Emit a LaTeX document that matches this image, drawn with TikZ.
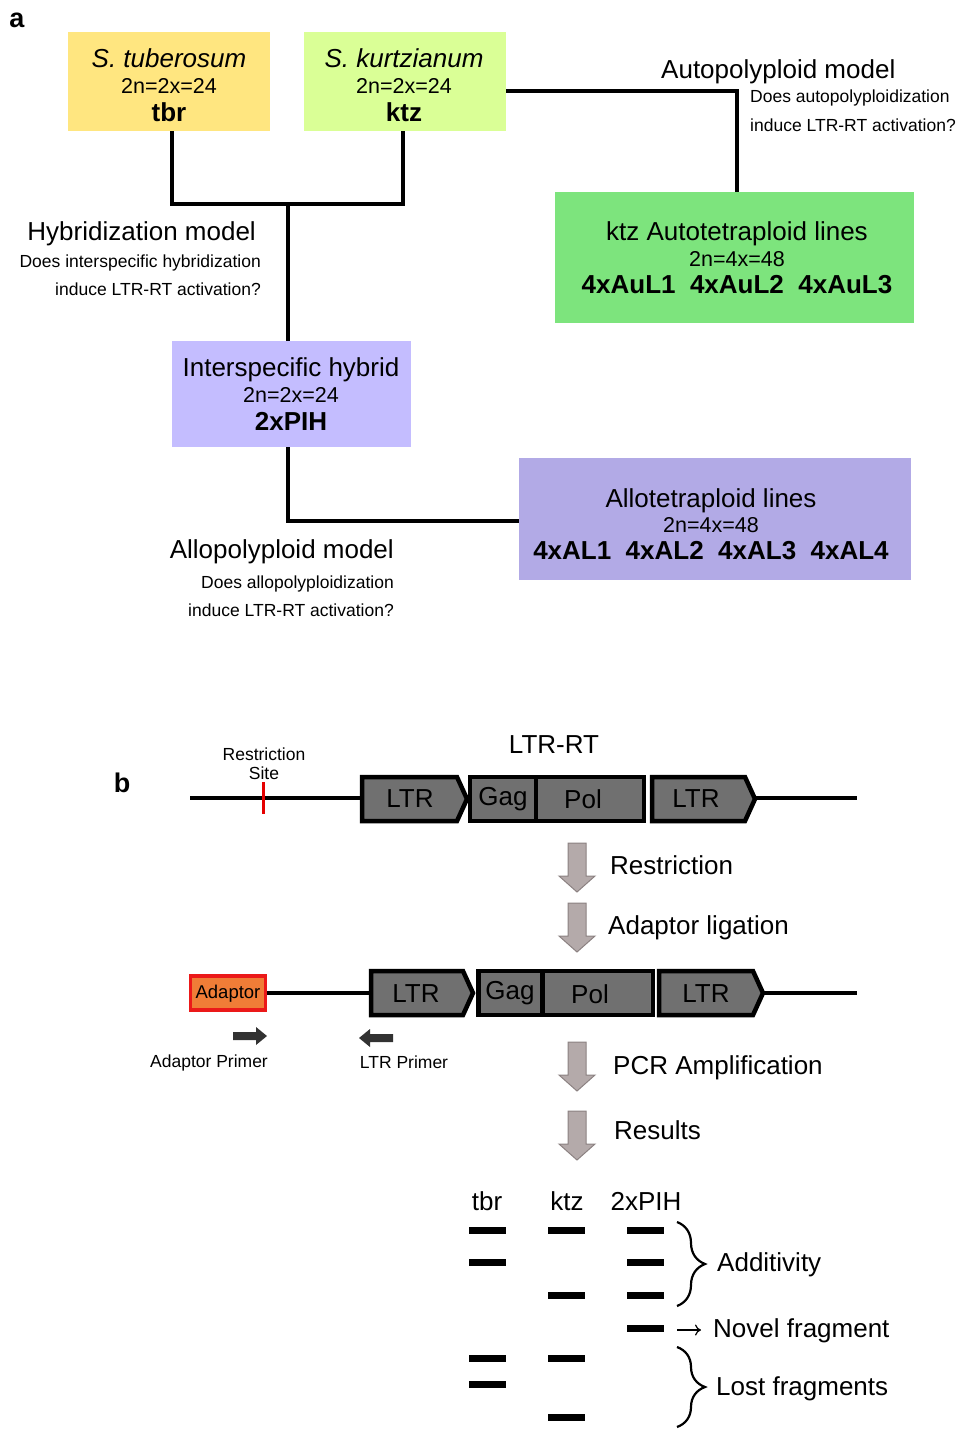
\documentclass[tikz,border=0pt]{standalone}
\usepackage{fontspec}
\setmainfont{Liberation Sans}
\usetikzlibrary{decorations.pathreplacing,arrows.meta}
\definecolor{tbrcol}{RGB}{255,230,128}
\definecolor{ktzcol}{RGB}{218,255,150}
\definecolor{autocol}{RGB}{125,228,125}
\definecolor{hybcol}{RGB}{196,189,255}
\definecolor{allocol}{RGB}{178,170,230}
\definecolor{genegray}{RGB}{112,112,112}
\definecolor{arrowfill}{RGB}{180,170,170}
\definecolor{arrowdraw}{RGB}{140,130,130}
\definecolor{adaptfill}{RGB}{240,125,55}
\definecolor{adaptdraw}{RGB}{235,25,25}
\definecolor{primercol}{RGB}{50,50,50}
\begin{document}
\begin{tikzpicture}[x=1pt,y=-1pt,
  big/.style={font=\fontsize{26}{30}\selectfont, inner sep=0pt},
  bigb/.style={font=\fontsize{26}{30}\selectfont\bfseries, inner sep=0pt},
  bigi/.style={font=\fontsize{26}{30}\selectfont\itshape, inner sep=0pt},
  mid/.style={font=\fontsize{21.5}{25}\selectfont, inner sep=0pt},
  small/.style={font=\fontsize{17.5}{21}\selectfont, inner sep=0pt},
  panel/.style={font=\fontsize{27}{30}\selectfont\bfseries, inner sep=0pt},
  box/.style={rectangle, inner sep=0pt, draw=none},
  conn/.style={line width=4.5pt, line join=miter},
  dna/.style={line width=4pt},
  genebox/.style={rectangle, draw=black, fill=genegray, line width=4.5pt, inner sep=0pt, line join=miter},
  ltrbox/.style={draw=black, fill=genegray, line width=4.5pt, line join=miter},
  band/.style={rectangle, fill=black, minimum width=37pt, minimum height=7pt, inner sep=0pt},
  bracestyle/.style={decorate, decoration={brace, amplitude=28pt, aspect=0.5}, line width=2.2pt},
  pics/grayarrow/.style={code={
    \draw[fill=arrowfill, draw=arrowdraw, line width=1pt]
      (-9,0) -- (9,0) -- (9,33) -- (18,33) -- (0,49) -- (-18,33) -- (-9,33) -- cycle;}}
]
\useasboundingbox (0,0) rectangle (957,1429);

% ---------- panel a ----------
\node[panel] (pa) at (17,20) {a};

\node[box, fill=tbrcol, minimum width=202pt, minimum height=99pt] (tbr) at (169,81.5) {};
\node[bigi] (tbr1) at (169,58) {S. tuberosum};
\node[mid]  (tbr2) at (169,86) {2n=2x=24};
\node[bigb] (tbr3) at (169,112) {tbr};

\node[box, fill=ktzcol, minimum width=202pt, minimum height=99pt] (ktz) at (405,81.5) {};
\node[bigi] (ktz1) at (404,58) {S. kurtzianum};
\node[mid]  (ktz2) at (404,86) {2n=2x=24};
\node[bigb] (ktz3) at (404,112) {ktz};

\node[box, fill=autocol, minimum width=359pt, minimum height=131pt] (auto) at (734.5,257.5) {};
\node[big]  (auto1) at (737,234) {ktz Autotetraploid lines};
\node[mid]  (auto2) at (737,259) {2n=4x=48};
\node[bigb] (auto3) at (737,285) {4xAuL1\ \ 4xAuL2\ \ 4xAuL3};

\node[box, fill=hybcol, minimum width=239pt, minimum height=106pt] (hyb) at (291.5,394) {};
\node[big]  (hyb1) at (291,370) {Interspecific hybrid};
\node[mid]  (hyb2) at (291,395) {2n=2x=24};
\node[bigb] (hyb3) at (291,421) {2xPIH};

\node[box, fill=allocol, minimum width=392pt, minimum height=122pt] (allo) at (715,519) {};
\node[big]  (allo1) at (711,501) {Allotetraploid lines};
\node[mid]  (allo2) at (711,525) {2n=4x=48};
\node[bigb] (allo3) at (711,551) {4xAL1\ \ 4xAL2\ \ 4xAL3\ \ 4xAL4};

% connectors
\coordinate (j) at (288,204);
\draw[conn] ([xshift=3pt]tbr.south) |- (j) -| ([xshift=-2pt]ktz.south);
\draw[conn] (j) -- (j |- hyb.north);
\draw[conn] ([yshift=-9.5pt]ktz.east) -| ([xshift=2.5pt]auto.north);
\draw[conn] ([xshift=-3.5pt]hyb.south) |- ([yshift=-2pt]allo.west);

% model texts
\node[big, anchor=west] (automodel) at (661,72) {Autopolyploid model};
\node[small, anchor=west] (autoq1) at (750,98) {Does autopolyploidization};
\node[small, anchor=west] (autoq2) at (750,125) {induce LTR-RT activation?};

\node[big, anchor=east] (hybmodel) at (256,234) {Hybridization model};
\node[small, anchor=east] (hybq1) at (261,263) {Does interspecific hybridization};
\node[small, anchor=east] (hybq2) at (261,289) {induce LTR-RT activation?};

\node[big, anchor=east] (allomodel) at (394,552) {Allopolyploid model};
\node[small, anchor=east] (alloq1) at (394,584) {Does allopolyploidization};
\node[small, anchor=east] (alloq2) at (394,610) {induce LTR-RT activation?};

% ---------- panel b ----------
\node[panel] (pb) at (122,783) {b};
\node[small] (rs1) at (264,754) {Restriction};
\node[small] (rs2) at (264,773) {Site};
\node[big] (ltrrt) at (554,745) {LTR-RT};

% row 1
\coordinate (r1l) at (190,798);
\coordinate (r1r) at (857,798);
\coordinate (l1w) at (362,798);
\coordinate (l2e) at (755,798);
\draw[dna] (r1l) -- (l1w);
\draw[dna] (l2e) -- (r1r);
\draw[red!90!black, line width=3pt] (263,782) -- (263,814);
\draw[ltrbox] (362,777) -- (457,777) -- (467,799) -- (457,821) -- (362,821) -- cycle;
\node[big] (ltr1t) at (410,799) {LTR};
\node[genebox, minimum width=66pt, minimum height=44pt] (gag1) at (503,799) {};
\node[genebox, minimum width=108pt, minimum height=44pt] (pol1) at (590,799) {};
\node[big] (gag1t) at (503,799) {Gag};
\node[big] (pol1t) at (583,799) {Pol};
\draw[ltrbox] (652,777) -- (745,777) -- (755,799) -- (745,821) -- (652,821) -- cycle;
\node[big] (ltr2t) at (696,799) {LTR};

% process arrows
\pic (a1) at (577,843) {grayarrow};
\node[big, anchor=west] (t1) at (610,865) {Restriction};
\pic (a2) at (577,903) {grayarrow};
\node[big, anchor=west] (t2) at (608,928) {Adaptor ligation};

% row 2
\node[rectangle, draw=adaptdraw, fill=adaptfill, line width=3.5pt, minimum width=75pt, minimum height=34pt, inner sep=0pt] (adapt) at (228,993) {};
\node[font=\fontsize{18.5}{21}\selectfont, inner sep=0pt] (adaptt) at (228,994) {Adaptor};
\coordinate (l3w) at (371,993);
\coordinate (l4e) at (763,993);
\coordinate (r2r) at (857,993);
\draw[dna] (adapt.east) -- (l3w);
\draw[dna] (l4e) -- (r2r);
\draw[ltrbox] (371,971) -- (463,971) -- (473,993) -- (463,1015) -- (371,1015) -- cycle;
\node[big] (ltr3t) at (416,994) {LTR};
\node[genebox, minimum width=64pt, minimum height=44pt] (gag2) at (510.5,993) {};
\node[genebox, minimum width=110pt, minimum height=44pt] (pol2) at (598,993) {};
\node[big] (gag2t) at (510,993) {Gag};
\node[big] (pol2t) at (590,994) {Pol};
\draw[ltrbox] (659,971) -- (753,971) -- (763,993) -- (753,1015) -- (659,1015) -- cycle;
\node[big] (ltr4t) at (706,994) {LTR};

% primers
\fill[primercol] (233,1032) -- (256,1032) -- (256,1027) -- (267,1036) -- (256,1045) -- (256,1040) -- (233,1040) -- cycle;
\fill[primercol] (393,1034) -- (370,1034) -- (370,1029) -- (359,1038) -- (370,1047) -- (370,1042) -- (393,1042) -- cycle;
\node[small] (ap) at (209,1063) {Adaptor Primer};
\node[small] (lp) at (404,1062) {LTR Primer};

\pic (a3) at (577,1042) {grayarrow};
\node[big, anchor=west] (t3) at (613,1068) {PCR Amplification};
\pic (a4) at (577,1111) {grayarrow};
\node[big, anchor=west] (t4) at (614,1130) {Results};

% gel
\node[big] (gtbr) at (487,1201) {tbr};
\node[big] (gktz) at (567,1201) {ktz};
\node[big] (gpih) at (646,1201) {2xPIH};

\node[band] (b11) at (487,1230) {};
\node[band] (b12) at (487,1262) {};
\node[band] (b13) at (487,1358) {};
\node[band] (b14) at (487,1384) {};

\node[band] (b21) at (566,1230) {};
\node[band] (b22) at (566,1295) {};
\node[band] (b23) at (566,1358) {};
\node[band] (b24) at (566,1417) {};

\node[band] (b31) at (645,1230) {};
\node[band] (b32) at (645,1262) {};
\node[band] (b33) at (645,1295) {};
\node[band] (b34) at (645,1328) {};

\coordinate (br1t) at (677,1222);
\coordinate (br1b) at (677,1306);
\draw[bracestyle] (br1t) -- (br1b);
\node[big, anchor=west] (add) at (717,1265) {Additivity};

\coordinate (nv1) at (677,1330);
\coordinate (nv2) at (701,1330);
\draw[-{To[length=6pt,width=11pt]}, line width=1.2pt] (nv1) -- (nv2);
\node[big, anchor=west] (novel) at (713,1331) {Novel fragment};

\coordinate (br2t) at (677,1347);
\coordinate (br2b) at (677,1427);
\draw[bracestyle] (br2t) -- (br2b);
\node[big, anchor=west] (lost) at (716,1389) {Lost fragments};
\end{tikzpicture}
\end{document}
